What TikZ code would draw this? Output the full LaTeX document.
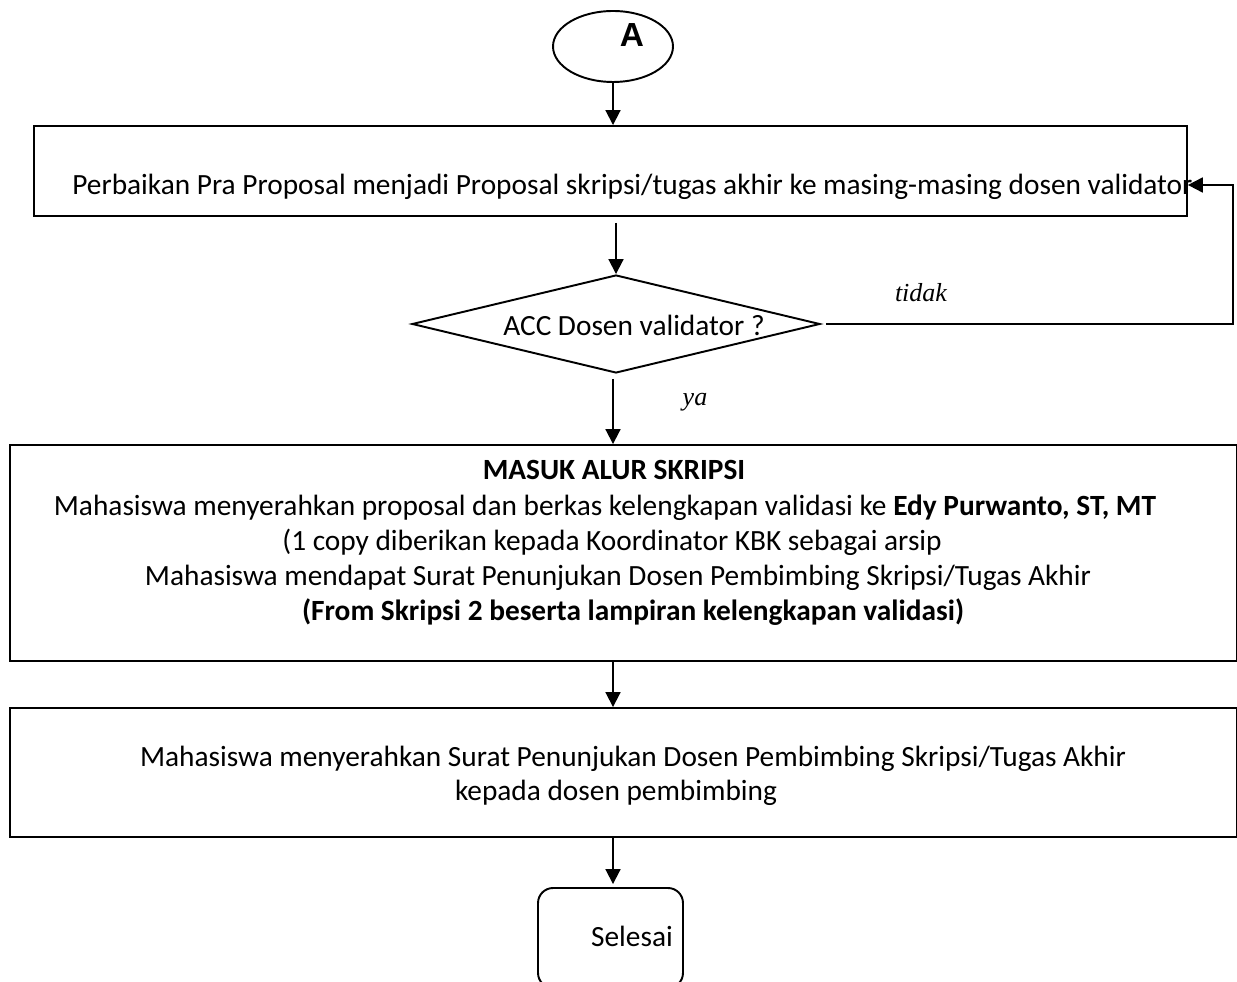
\documentclass[tikz,border=0pt]{standalone}
\usepackage{fontspec}
\setmainfont{Carlito}
\newfontfamily\miringfont{Liberation Serif}
\newfontfamily\hurufA{Liberation Sans}
\usetikzlibrary{shapes.geometric,arrows.meta}
\tikzset{
  kotak/.style={draw, line width=1.1pt, inner sep=0pt},
  panah/.style={-{Triangle[width=8.5pt,length=8.5pt]}, line width=1.1pt},
  teks/.style={inner sep=0pt, anchor=base, font=\fontsize{16.7}{20}\selectfont},
  tebal/.style={teks, font=\bfseries\fontsize{16.7}{20}\selectfont},
  ket/.style={inner sep=0pt, anchor=base, font=\miringfont\itshape\fontsize{14.8}{17}\selectfont}
}
\begin{document}
\begin{tikzpicture}[x=0.02cm, y=-0.02cm]
  \useasboundingbox (0,0) rectangle (1237,982);
  % Kotak dan simbol
  \node[kotak, ellipse, minimum width=2.4cm, minimum height=1.42cm] (a) at (613,46.5) {};
  \node[inner sep=0pt, anchor=base, font=\hurufA\bfseries\fontsize{19}{22}\selectfont] (hurufa) at (632,47) {A};
  \node[kotak, minimum width=23.06cm, minimum height=1.8cm] (p1) at (610.5,171) {};
  \node[kotak, diamond, minimum width=8.16cm, minimum height=1.96cm] (acc) at (616,324) {};
  \node[kotak, minimum width=24.54cm, minimum height=4.32cm] (p2) at (623.5,553) {};
  \node[kotak, minimum width=24.54cm, minimum height=2.58cm] (p3) at (623.5,772.5) {};
  \node[kotak, rounded corners=0.3cm, minimum width=2.9cm, minimum height=2cm] (sel) at (610.5,938) {};
  % Teks
  \node[teks, anchor=base west] (t1) at (72,195) {Perbaikan Pra Proposal menjadi Proposal skripsi/tugas akhir ke masing-masing dosen validator};
  \node[teks] (tacc) at (634,336) {ACC Dosen validator ?};
  \node[ket] (tidak) at (921,302) {tidak};
  \node[ket] (ya) at (695,406) {ya};
  \node[tebal] (m1) at (614,480) {MASUK ALUR SKRIPSI};
  \node[teks] (m2) at (605,516) {Mahasiswa menyerahkan proposal dan berkas kelengkapan validasi ke \textbf{Edy Purwanto, ST, MT}};
  \node[teks] (m3) at (612,551) {(1 copy diberikan kepada Koordinator KBK sebagai arsip};
  \node[teks] (m4) at (618,586) {Mahasiswa mendapat Surat Penunjukan Dosen Pembimbing Skripsi/Tugas Akhir};
  \node[tebal] (m5) at (633,621) {(From Skripsi 2 beserta lampiran kelengkapan validasi)};
  \node[teks] (s1) at (633,766) {Mahasiswa menyerahkan Surat Penunjukan Dosen Pembimbing Skripsi/Tugas Akhir};
  \node[teks] (s2) at (616,800) {kepada dosen pembimbing};
  \node[teks] (tsel) at (632,946) {Selesai};
  % Panah
  \coordinate (balik) at (1233,185);
  \draw[panah] (a.south) -- (a.south |- p1.north);
  \draw[panah] ([yshift=-0.12cm]p1.south -| acc.north) -- (acc.north);
  \draw[panah] ([yshift=-0.1cm]a.south |- acc.south) -- (a.south |- p2.north);
  \draw[panah] (a.south |- p2.south) -- (a.south |- p3.north);
  \draw[panah, shorten >=0.06cm] (a.south |- p3.south) -- (a.south |- sel.north);
  \draw[panah] ([xshift=0.1cm]acc.east) -| (balik) -- (p1.east |- balik);
\end{tikzpicture}
\end{document}
